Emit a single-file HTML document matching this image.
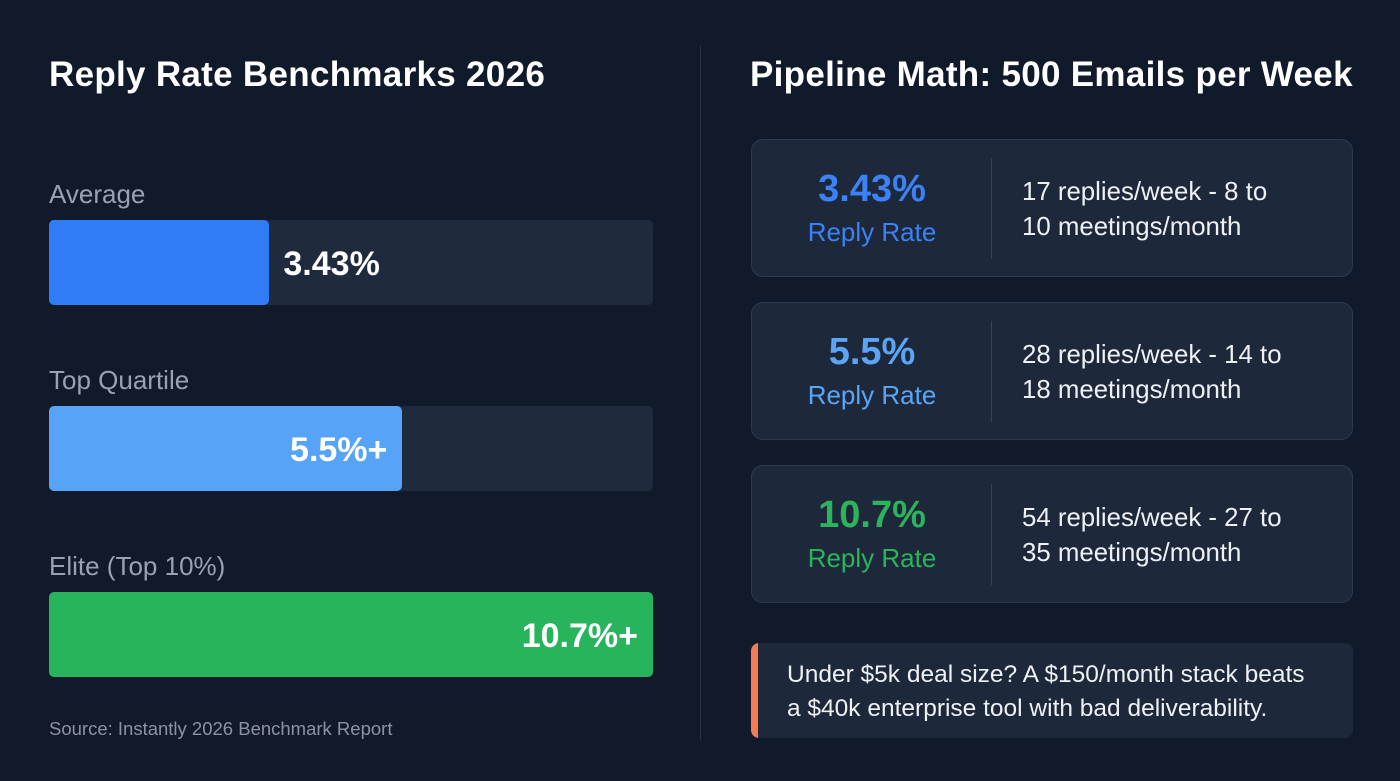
<!DOCTYPE html>
<html><head><meta charset="utf-8">
<style>
*{margin:0;padding:0;box-sizing:border-box}
body{width:1400px;height:781px;background:#111a2b;font-family:"Liberation Sans",sans-serif;position:relative;overflow:hidden;color:#fff}
.abs{position:absolute}
h1{position:absolute;font-size:35px;font-weight:700;color:#fff;white-space:nowrap;letter-spacing:0.3px}
.lbl{position:absolute;left:49px;font-size:26px;color:#9aa2b1}
.track{position:absolute;left:49px;width:604px;height:85px;background:#1f2a3d;border-radius:5px}
.fill{position:absolute;left:0;top:0;height:85px;border-radius:5px}
.val{position:absolute;top:2px;line-height:85px;font-size:34px;font-weight:700;color:#fff;white-space:nowrap}
.card{position:absolute;left:751px;width:602px;height:138px;background:#1d283b;border:1px solid #2c3a50;border-radius:12px}
.card .pct{position:absolute;left:0;width:240px;text-align:center;top:28px;font-size:38px;font-weight:700}
.card .rr{position:absolute;left:0;width:240px;text-align:center;top:77px;font-size:26px}
.card .div{position:absolute;left:239px;top:18px;width:1px;height:101px;background:#34425a}
.card .txt{position:absolute;left:270px;top:35px;font-size:25.8px;line-height:35px;color:#eef1f5}
</style></head><body>
<h1 style="left:49px;top:55px">Reply Rate Benchmarks 2026</h1>
<div class="abs" style="left:700px;top:45px;width:1px;height:695px;background:#273247"></div>
<h1 style="left:750px;top:55px">Pipeline Math: 500 Emails per Week</h1>
<div id="bars"></div>
<div class="abs" style="left:49px;top:718px;font-size:18.5px;color:#8a93a3">Source: Instantly 2026 Benchmark Report</div>

<div class="card" style="top:139px">
<div class="pct" style="color:#3b82f6">3.43%</div>
<div class="rr" style="color:#3b82f6">Reply Rate</div>
<div class="div"></div>
<div class="txt">17 replies/week - 8 to<br>10 meetings/month</div></div>
<div class="card" style="top:302px">
<div class="pct" style="color:#5aa5f5">5.5%</div>
<div class="rr" style="color:#5aa5f5">Reply Rate</div>
<div class="div"></div>
<div class="txt">28 replies/week - 14 to<br>18 meetings/month</div></div>
<div class="card" style="top:465px">
<div class="pct" style="color:#2bb45c">10.7%</div>
<div class="rr" style="color:#2bb45c">Reply Rate</div>
<div class="div"></div>
<div class="txt">54 replies/week - 27 to<br>35 meetings/month</div></div>

<div class="abs" style="left:751px;top:643px;width:602px;height:95px;background:#1d283b;border-radius:8px;overflow:hidden">
<div class="abs" style="left:0;top:0;width:7px;height:95px;background:#f47c56"></div>
<div class="abs" style="left:36px;top:15px;font-size:24.5px;line-height:34px;color:#eef1f5;white-space:nowrap">Under $5k deal size? A $150/month stack beats<br>a $40k enterprise tool with bad deliverability.</div></div>

<script>
const categories=["Average","Top Quartile","Elite (Top 10%)"];
const values=[3.43,5.5,10.7];
const valueLabels=["3.43%","5.5%+","10.7%+"];
const colors=["#2f7cf6","#56a3f7","#28b35d"];
const trackW=604,domainMax=9.4;
function x(v){return Math.min(trackW,v/domainMax*trackW);}
const root=document.getElementById('bars');
categories.forEach((c,i)=>{
  const top=220+i*186;
  const l=document.createElement('div');l.className='lbl';l.style.top=(top-41)+'px';l.textContent=c;
  
  
  root.appendChild(l);
  const t=document.createElement('div');t.className='track';t.style.top=top+'px';
  
  
  const f=document.createElement('div');f.className='fill';const w=x(values[i]);f.style.width=w+'px';f.style.background=colors[i];
  
  
  t.appendChild(f);
  const v=document.createElement('div');v.className='val';v.textContent=valueLabels[i];
  
  
  if(w<260){v.style.left=(w+14)+'px';}else{v.style.right=(trackW-w+15)+'px';}
  t.appendChild(v);
  root.appendChild(t);
});
</script>
</body></html>
